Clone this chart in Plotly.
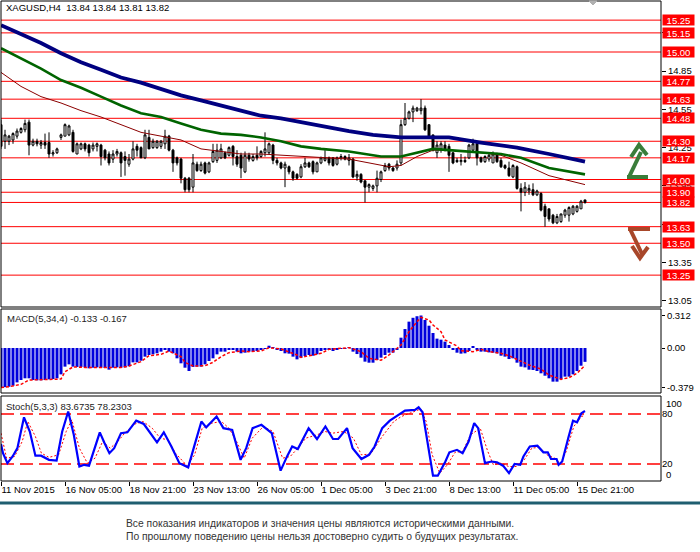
import plotly.graph_objects as go

# ---------------- data ----------------
opens = [14.43,14.30,14.30,14.31,14.34,14.37,14.39,14.45,14.27,14.30,14.27,14.29,14.29,14.20,14.21,14.33,14.34,14.35,14.37,14.20,
         14.24,14.28,14.27,14.24,14.26,14.27,14.23,14.20,14.16,14.20,14.21,14.18,14.12,14.16,14.26,14.25,14.17,14.33,14.25,14.25,
         14.26,14.28,14.34,14.23,14.17,14.16,14.01,14.01,13.94,14.12,14.07,14.13,14.06,14.14,14.15,14.17,14.21,14.19,14.26,14.18,
         14.19,14.06,14.19,14.15,14.19,14.18,14.21,14.21,14.27,14.15,14.13,14.09,14.10,14.06,14.04,14.02,14.10,14.13,14.14,14.06,
         14.13,14.15,14.17,14.17,14.12,14.17,14.18,14.15,14.16,14.02,14.04,13.99,13.94,13.93,13.95,14.00,14.07,14.12,14.09,14.09,
         14.13,14.43,14.48,14.53,14.54,14.54,14.56,14.43,14.35,14.21,14.24,14.27,14.26,14.21,14.15,14.14,14.15,14.17,14.23,14.28,
         14.17,14.14,14.16,14.13,14.20,14.15,14.11,14.09,14.02,14.10,13.93,13.90,13.91,13.92,13.88,13.89,13.79,13.77,13.72,13.66,
         13.67,13.72,13.72,13.73,13.75,13.77,13.84]
highs = [14.47,14.39,14.35,14.37,14.40,14.41,14.47,14.47,14.32,14.32,14.31,14.36,14.37,14.23,14.25,14.36,14.44,14.43,14.39,14.29,
         14.29,14.29,14.28,14.29,14.29,14.28,14.24,14.22,14.23,14.24,14.22,14.22,14.20,14.30,14.28,14.26,14.39,14.39,14.32,14.31,
         14.31,14.39,14.35,14.24,14.18,14.17,14.02,14.02,14.20,14.14,14.14,14.14,14.14,14.28,14.28,14.28,14.22,14.26,14.27,14.23,
         14.21,14.22,14.21,14.20,14.26,14.23,14.37,14.29,14.28,14.17,14.14,14.14,14.11,14.07,14.05,14.12,14.17,14.14,14.15,14.14,
         14.18,14.23,14.18,14.17,14.18,14.20,14.19,14.20,14.17,14.07,14.05,13.99,13.97,13.96,14.07,14.07,14.13,14.13,14.10,14.15,
         14.47,14.60,14.54,14.58,14.57,14.63,14.58,14.43,14.35,14.30,14.30,14.30,14.28,14.21,14.17,14.20,14.18,14.28,14.32,14.30,
         14.18,14.19,14.20,14.22,14.21,14.17,14.12,14.14,14.12,14.11,13.97,13.98,13.96,13.97,13.92,13.90,13.81,13.77,13.73,13.73,
         13.73,13.77,13.79,13.80,13.80,13.84,13.84]
lows = [14.24,14.24,14.27,14.28,14.32,14.36,14.37,14.19,14.26,14.26,14.24,14.24,14.17,14.18,14.20,14.31,14.34,14.34,14.21,14.20,
        14.23,14.22,14.18,14.22,14.22,14.11,14.15,14.11,14.13,14.18,14.02,14.03,14.10,14.15,14.18,14.17,14.16,14.24,14.24,14.24,
        14.24,14.24,14.22,14.06,14.11,13.97,13.90,13.90,13.90,14.06,14.06,14.04,14.05,14.13,14.13,14.16,14.16,14.18,14.11,14.10,
        14.01,14.05,14.14,14.14,14.15,14.17,14.18,14.20,14.12,14.11,14.08,13.94,14.04,13.99,14.00,14.01,14.09,14.09,14.04,14.06,
        14.12,14.14,14.11,14.10,14.11,14.15,14.15,14.11,14.01,13.99,13.97,13.82,13.90,13.91,13.90,13.98,14.06,14.07,14.06,14.07,
        14.11,14.42,14.47,14.45,14.53,14.51,14.38,14.33,14.22,14.17,14.21,14.22,14.06,14.12,14.13,14.11,14.13,14.16,14.22,14.11,
        14.13,14.13,14.14,14.13,14.13,14.09,14.08,14.02,14.01,13.92,13.75,13.87,13.88,13.87,13.87,13.75,13.63,13.67,13.65,13.65,
        13.66,13.70,13.67,13.72,13.74,13.77,13.81]
closes = [14.26,14.35,14.34,14.36,14.38,14.40,14.44,14.27,14.30,14.28,14.29,14.27,14.20,14.21,14.24,14.35,14.43,14.42,14.22,14.28,
          14.28,14.24,14.21,14.27,14.28,14.18,14.17,14.13,14.20,14.22,14.13,14.15,14.16,14.24,14.23,14.17,14.35,14.24,14.30,14.30,
          14.30,14.34,14.23,14.13,14.13,14.01,13.92,13.92,14.13,14.07,14.12,14.05,14.13,14.22,14.23,14.24,14.17,14.25,14.18,14.12,
          14.09,14.19,14.16,14.18,14.17,14.22,14.24,14.28,14.15,14.13,14.09,14.12,14.06,14.01,14.01,14.10,14.13,14.10,14.06,14.13,
          14.17,14.17,14.13,14.11,14.17,14.18,14.16,14.17,14.02,14.04,13.98,13.94,13.96,13.95,14.01,14.06,14.11,14.09,14.07,14.12,
          14.43,14.48,14.53,14.56,14.56,14.56,14.39,14.34,14.23,14.27,14.28,14.24,14.19,14.13,14.14,14.15,14.14,14.27,14.28,14.17,
          14.14,14.18,14.19,14.20,14.14,14.10,14.09,14.03,14.11,13.93,13.90,13.94,13.93,13.88,13.91,13.76,13.71,13.69,13.66,13.71,
          13.73,13.76,13.78,13.79,13.79,13.83,13.82]
bar_idx = list(range(len(closes)))

ma_slow_idx = [0,5,10,15,20,25,30,35,40,45,50,55,60,65,70,75,80,87,93,100,106,112,120,129,137,141,146]
ma_slow_val = [15.21,15.14,15.07,14.99,14.92,14.86,14.80,14.76,14.71,14.66,14.62,14.58,14.54,14.50,14.48,14.45,14.42,14.38,
               14.35,14.33,14.33,14.33,14.29,14.25,14.20,14.17,14.14]
ma_mid_idx = [0,5,10,15,20,25,30,35,40,45,50,55,60,65,70,75,80,87,95,100,104,108,112,120,125,130,137,146]
ma_mid_val = [15.03,14.95,14.87,14.78,14.72,14.65,14.58,14.52,14.49,14.44,14.39,14.36,14.35,14.33,14.30,14.26,14.24,14.22,
              14.18,14.18,14.21,14.24,14.23,14.21,14.20,14.17,14.09,14.04]
ma_fast_idx = [0,2.25,5,10,15,20,25,30,35,40,45,50,55,60,65,70,75,80,87,92,97,100,104,108,112,120,125,130,137,146]
ma_fast_val = [14.84,14.79,14.73,14.65,14.60,14.54,14.49,14.43,14.37,14.34,14.31,14.24,14.22,14.20,14.20,14.19,14.18,14.17,
               14.16,14.13,14.10,14.11,14.18,14.23,14.23,14.21,14.19,14.13,14.03,13.96]

level_prices = [15.25,15.15,15.00,14.77,14.63,14.48,14.30,14.17,14.00,13.90,13.82,13.63,13.50,13.25]
price_ticks = [13.05,13.35,13.65,13.95,14.25,14.55,14.85,15.15]
price_tick_text = ["13.05","13.35","","13.95","14.25","14.55","14.85",""]

macd_hist = [-0.379,-0.376,-0.372,-0.362,-0.330,-0.307,-0.291,-0.291,-0.307,-0.310,-0.310,-0.307,-0.301,-0.298,-0.291,-0.253,
             -0.179,-0.157,-0.179,-0.182,-0.182,-0.186,-0.195,-0.189,-0.186,-0.189,-0.192,-0.208,-0.189,-0.186,-0.189,-0.186,
             -0.176,-0.138,-0.138,-0.122,-0.083,-0.067,-0.061,-0.051,-0.035,-0.019,-0.035,-0.051,-0.099,-0.147,-0.189,-0.221,
             -0.182,-0.179,-0.179,-0.157,-0.125,-0.099,-0.061,-0.035,-0.035,-0.010,-0.013,-0.035,-0.051,-0.045,-0.035,-0.035,
             -0.029,-0.013,-0.003,0.022,0.003,-0.010,-0.029,-0.051,-0.054,-0.083,-0.109,-0.093,-0.077,-0.067,-0.074,-0.061,
             -0.029,-0.019,-0.019,-0.029,-0.013,-0.003,-0.003,0.006,-0.035,-0.058,-0.093,-0.131,-0.141,-0.141,-0.115,-0.093,
             -0.067,-0.045,-0.045,-0.019,0.099,0.182,0.253,0.290,0.305,0.312,0.269,0.214,0.144,0.090,0.080,0.061,
             0.029,-0.019,-0.045,-0.054,-0.051,-0.029,0.010,-0.013,-0.035,-0.035,-0.042,-0.045,-0.051,-0.074,-0.083,-0.106,
             -0.099,-0.141,-0.179,-0.186,-0.208,-0.211,-0.221,-0.243,-0.266,-0.291,-0.323,-0.323,-0.298,-0.275,-0.275,-0.253,
             -0.221,-0.170,-0.133]
macd_sig_idx = [0,2,5,7,10,12,15,16,18,21,25,27,30,32,35,37,40,42,45,46,48,51,53,55,57,60,62,65,67,70,72,74,75,77,80,82,85,87,
                90,92,95,97,100,102,104,105,107,108,110,111,114,115,118,120,122,125,127,130,132,135,137,140,142,144,146]
macd_sig_val = [-0.379,-0.372,-0.349,-0.307,-0.304,-0.301,-0.298,-0.227,-0.182,-0.186,-0.186,-0.189,-0.186,-0.173,-0.131,-0.074,
                -0.061,-0.029,-0.083,-0.138,-0.173,-0.170,-0.138,-0.083,-0.045,-0.029,-0.035,-0.029,0.003,-0.010,-0.035,-0.067,
                -0.090,-0.077,-0.051,-0.013,-0.003,0.003,-0.035,-0.099,-0.118,-0.067,0.029,0.157,0.253,0.294,0.269,0.221,0.157,
                0.077,0.019,-0.026,-0.035,-0.013,-0.035,-0.051,-0.074,-0.125,-0.163,-0.202,-0.259,-0.301,-0.285,-0.243,-0.167]

stoch_main_idx = [0,0.5,1.6,2.9,4.1,5.75,7.2,8.6,10,12,13.9,15.3,16.8,18.2,19.6,20.8,22,23.5,24.7,25.9,27.1,28.3,30,31.6,33.8,
                  35.7,37.4,39,40.7,42.6,44.6,46.8,48.4,50.1,51.3,53.9,55.6,57.8,59.9,61.3,62.9,65.1,67.7,69.9,71.6,72.8,74.2,
                  76.9,79,81.1,83,84.3,86.5,87.9,90.1,92,93.4,95.3,97.2,99.6,101,103.5,104.4,105.4,106.8,108,109.2,111.1,112.1,
                  114,115.4,116.9,118.3,119.3,121,122.6,124,125.5,127,128.4,129.8,130.6,132.2,134.1,135.6,136.7,137.5,138.9,
                  139.4,140.3,141.8,143,144,145.1,146]
stoch_main_val = [44,33,21,29,39,76,59,30,30,25,24,59,83,55,17,19,18,39,58,45,33,39,57,58,72,68,57,46,58,41,21,16,43,71,64,77,
                  63,61,25,39,63,67,57,12,30,41,38,63,50,65,50,50,63,39,26,31,41,63,72,79,84,85,88,82,39,6,6,23,34,37,33,47,
                  69,63,21,23,22,18,9,20,19,29,41,42,34,34,26,26,19,23,51,72,70,81,83.67]
stoch_sig_idx = [0,1.4,3.4,5.3,6.7,8.6,10.1,12,14.4,16.3,17.7,19.6,21.6,23.5,25.4,27.3,29.2,31.1,33.5,35.5,37.8,39.8,41.7,43.6,
                 46.5,48.4,50.3,52.7,55.1,57,58.9,60.8,62.8,65.6,68,70.4,72.3,74.2,76.2,79,81,82.9,85.7,88.1,90.1,92.4,95.3,
                 98.2,100.1,103,104.9,106.3,107.8,109.7,111.6,113.5,115.4,117.4,119.8,121.7,123.1,125,126.9,128.9,130.8,
                 132.7,134.6,136.5,138.4,139.9,141.3,143.2,145.1,146]
stoch_sig_val = [57,27,29,47,71,53,33,28,31,59,73,39,21,27,47,39,47,58,68,71,63,51,49,33,18,31,63,69,71,63,47,27,51,65,59,27,
                 29,39,51,55,59,57,59,51,31,32,53,71,77,83,86,71,31,9,19,34,35,55,63,35,19,21,17,17,25,39,40,31,27,21,35,65,
                 77,78.23]

tick_bars = [0,16,32,48,64,80,96,112,128,144]
tick_text = ["11 Nov 2015","16 Nov 05:00","18 Nov 21:00","23 Nov 13:00","26 Nov 05:00","1 Dec 05:00",
             "3 Dec 21:00","8 Dec 13:00","11 Dec 05:00","15 Dec 21:00"]

# ---------------- geometry ----------------
W, H = 700, 552
ML, MR, MT, MB = 1, 39, 1, 71
PW, PH = W - ML - MR, H - MT - MB
FONT = "Liberation Sans"

def px(xp):
    return (xp - ML) / PW

def py(yp):
    return (H - MB - yp) / PH

fig = go.Figure()

fig.add_trace(go.Candlestick(
    x=bar_idx, open=opens, high=highs, low=lows, close=closes,
    increasing=dict(line=dict(color="black", width=1), fillcolor="white"),
    decreasing=dict(line=dict(color="black", width=1), fillcolor="black"),
    whiskerwidth=0, hoverinfo="skip", xaxis="x", yaxis="y", showlegend=False))

fig.add_trace(go.Scatter(x=ma_fast_idx, y=ma_fast_val, mode="lines", line=dict(color="#8B0000", width=1),
                         xaxis="x", yaxis="y", showlegend=False, hoverinfo="skip"))
fig.add_trace(go.Scatter(x=ma_mid_idx, y=ma_mid_val, mode="lines", line=dict(color="#006400", width=2.6),
                         xaxis="x", yaxis="y", showlegend=False, hoverinfo="skip"))
fig.add_trace(go.Scatter(x=ma_slow_idx, y=ma_slow_val, mode="lines", line=dict(color="#000080", width=3.8),
                         xaxis="x", yaxis="y", showlegend=False, hoverinfo="skip"))

fig.add_trace(go.Bar(x=bar_idx, y=macd_hist, width=0.75, marker=dict(color="#0000DD", line=dict(width=0)),
                     xaxis="x", yaxis="y2", showlegend=False, hoverinfo="skip"))
fig.add_trace(go.Scatter(x=macd_sig_idx, y=macd_sig_val, mode="lines",
                         line=dict(color="#FF0000", width=1.5, dash="3px,2px"),
                         xaxis="x", yaxis="y2", showlegend=False, hoverinfo="skip"))

fig.add_trace(go.Scatter(x=stoch_sig_idx, y=stoch_sig_val, mode="lines",
                         line=dict(color="#FF0000", width=1, dash="2px,2px"),
                         xaxis="x", yaxis="y3", showlegend=False, hoverinfo="skip"))
fig.add_trace(go.Scatter(x=stoch_main_idx, y=stoch_main_val, mode="lines", line=dict(color="#0000FF", width=2.2),
                         xaxis="x", yaxis="y3", showlegend=False, hoverinfo="skip"))

shapes = []
for lv in level_prices:
    shapes.append(dict(type="line", xref="paper", x0=0, x1=1, yref="y", y0=lv, y1=lv,
                       line=dict(color="#FF0000", width=1), layer="below"))
for lv in (20, 80):
    shapes.append(dict(type="line", xref="paper", x0=0, x1=1, yref="y3", y0=lv, y1=lv,
                       line=dict(color="#FF0000", width=1.5, dash="13px,6px"), layer="below"))
for ref in ("y", "y2", "y3"):
    shapes.append(dict(type="rect", xref="paper", x0=0, x1=1, yref=ref + " domain", y0=0, y1=1,
                       line=dict(color="black", width=1), fillcolor="rgba(0,0,0,0)", layer="above"))

def poly(points):
    return "M " + " L ".join(f"{px(a):.5f},{py(b):.5f}" for a, b in points)

for pts in ([(627, 177), (648, 177)], [(629, 177), (641, 152)], [(631, 157), (639, 145), (647, 155)]):
    shapes.append(dict(type="path", xref="paper", yref="paper", path=poly(pts),
                       line=dict(color="#3A7D3A", width=4)))
for pts in ([(628, 229), (650, 229)], [(630, 229), (642, 254)], [(632, 246), (640, 258), (648, 247)]):
    shapes.append(dict(type="path", xref="paper", yref="paper", path=poly(pts),
                       line=dict(color="#A8472A", width=4)))
shapes.append(dict(type="path", xref="paper", yref="paper",
                   path=poly([(589, 1), (597, 1), (593, 5)]) + " Z",
                   fillcolor="#B0B0B0", line=dict(color="#B0B0B0", width=1)))
shapes.append(dict(type="line", xref="paper", yref="paper", x0=px(0), x1=px(700), y0=py(503), y1=py(503),
                   line=dict(color="#1F5E70", width=3)))

ann = []
ann.append(dict(xref="paper", yref="paper", x=px(4), y=py(8), xanchor="left", yanchor="middle", showarrow=False,
                text="XAGUSD,H4&nbsp; 13.84 13.84 13.81 13.82", font=dict(family=FONT, size=9.5, color="black")))
ann.append(dict(xref="paper", yref="paper", x=px(5), y=py(318), xanchor="left", yanchor="middle", showarrow=False,
                text="MACD(5,34,4) -0.133 -0.167", font=dict(family=FONT, size=9.5, color="#222222")))
ann.append(dict(xref="paper", yref="paper", x=px(4), y=py(406), xanchor="left", yanchor="middle", showarrow=False,
                text="Stoch(5,3,3) 83.6735 78.2303", font=dict(family=FONT, size=9.5, color="#222222")))
ann.append(dict(xref="paper", yref="paper", x=px(664), y=py(403), xanchor="left", yanchor="middle", showarrow=False,
                text="100", font=dict(family=FONT, size=9.5, color="black")))
ann.append(dict(xref="paper", yref="paper", x=px(664), y=py(474), xanchor="left", yanchor="middle", showarrow=False,
                text="0", font=dict(family=FONT, size=9.5, color="black")))
for lv in level_prices:
    ann.append(dict(xref="paper", yref="y", x=1, y=lv, xanchor="left", yanchor="middle", xshift=1,
                    showarrow=False, text=f"{lv:.2f}", width=31, height=10, align="center",
                    bgcolor="#FF0000", borderpad=0, font=dict(family=FONT, size=9.5, color="white")))
ann.append(dict(xref="paper", yref="paper", x=px(124), y=py(523), xanchor="left", yanchor="middle", showarrow=False,
                text="Все показания индикаторов и значения цены являются историческими данными.",
                font=dict(family=FONT, size=10.3, color="#333333")))
ann.append(dict(xref="paper", yref="paper", x=px(124), y=py(536), xanchor="left", yanchor="middle", showarrow=False,
                text="По прошлому поведению цены нельзя достоверно судить о будущих результатах.",
                font=dict(family=FONT, size=10.3, color="#333333")))

axis_font = dict(family=FONT, size=9.5, color="black")
fig.update_layout(
    width=W, height=H, margin=dict(l=ML, r=MR, t=MT, b=MB),
    paper_bgcolor="white", plot_bgcolor="white", showlegend=False,
    font=dict(family=FONT),
    xaxis=dict(range=[0, PW / 4], anchor="y3", showgrid=False, zeroline=False, showline=False,
               tickmode="array", tickvals=tick_bars, ticktext=tick_text, ticks="outside", ticklen=4,
               tickcolor="black", tickfont=axis_font, ticklabelposition="outside right", tickangle=0,
               automargin=False, rangeslider=dict(visible=False), fixedrange=True),
    yaxis=dict(domain=[py(307), 1], range=[13.0, 15.4], side="right", anchor="x", showgrid=False,
               zeroline=False, showline=False, tickmode="array", tickvals=price_ticks,
               ticktext=price_tick_text, ticks="outside", ticklen=4, tickcolor="black",
               tickfont=axis_font, automargin=False),
    yaxis2=dict(domain=[py(393), py(309)], range=[-0.432, 0.3744], side="right", anchor="x", showgrid=False,
                zeroline=False, showline=False, tickmode="array", tickvals=[0.312, 0.0, -0.379],
                ticktext=["0.312", "0.00", "-0.379"], ticks="outside", ticklen=3, tickcolor="black",
                tickfont=axis_font, automargin=False),
    yaxis3=dict(domain=[0, py(396)], range=[-0.4, 101.6], side="right", anchor="x", showgrid=False,
                zeroline=False, showline=False, tickmode="array", tickvals=[20, 80], ticktext=["20", "80"],
                ticks="", tickfont=axis_font, automargin=False),
    shapes=shapes, annotations=ann,
)

fig.write_html("out.html", config=dict(displayModeBar=False),
               post_script="document.body.style.margin='0';document.body.style.padding='0';")
